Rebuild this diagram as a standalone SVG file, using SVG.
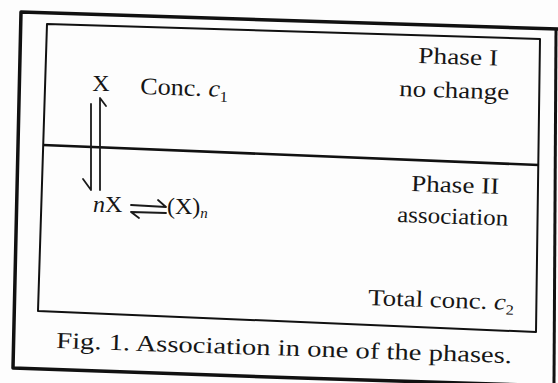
<svg xmlns="http://www.w3.org/2000/svg" width="558" height="383" viewBox="0 0 558 383">
<style>
.t{font-family:"Liberation Serif","Times New Roman",serif;fill:#161616;font-size:23px}
.b{font-size:24px}
.i{font-style:italic}
.frame{fill:none;stroke:#111;stroke-linejoin:round}
.ln{fill:none;stroke:#1a1a1a;stroke-width:1.8;stroke-linecap:round;stroke-linejoin:round}
</style>
<rect width="558" height="383" fill="#fdfdfd"/>
<g id="frame">
<path class="frame" stroke-width="3.5" d="M558,29 L21,12 L13,368 L300,378 L558,386"/>
<path class="frame" stroke-width="3" d="M556,30 L554,383"/>
<path class="frame" stroke-width="2" d="M47,24 L540,39 L536,332 L38,311 Z"/>
</g>
<g id="divider">
<path fill="none" stroke="#111" stroke-width="2.6" d="M43,145 L539,165"/>
</g>
<g id="phase1">
<text class="t" x="418" y="63" textLength="80" lengthAdjust="spacingAndGlyphs" transform="rotate(1.9 418 63)">Phase I</text>
<text class="t" x="399" y="96" textLength="110" lengthAdjust="spacingAndGlyphs" transform="rotate(1.9 399 96)">no change</text>
</g>
<g id="x-label">
<text class="t b" x="101" y="91" text-anchor="middle">X</text>
<text class="t b" x="140" y="94" textLength="88" lengthAdjust="spacingAndGlyphs" transform="rotate(1.9 140 94)">Conc. <tspan class="i">c</tspan><tspan font-size="15" dy="5">1</tspan></text>
</g>
<g id="phase2">
<text class="t" x="411" y="191" textLength="88" lengthAdjust="spacingAndGlyphs" transform="rotate(1.9 411 191)">Phase II</text>
<text class="t" x="397" y="222" textLength="111" lengthAdjust="spacingAndGlyphs" transform="rotate(1.9 397 222)">association</text>
</g>
<g id="equilibrium">
<text class="t b" x="93" y="212"><tspan class="i">n</tspan>X</text>
<text class="t b" x="167" y="214">(X)<tspan class="i" font-size="15" dy="4">n</tspan></text>
</g>
<g id="total">
<text class="t" x="368" y="305" textLength="146" lengthAdjust="spacingAndGlyphs" transform="rotate(1.9 368 305)">Total conc. <tspan class="i">c</tspan><tspan font-size="14" dy="5">2</tspan></text>
</g>
<g id="caption">
<text class="t" x="56" y="348" textLength="456" lengthAdjust="spacingAndGlyphs" transform="rotate(1.9 56 348)">Fig. 1. Association in one of the phases.</text>
</g>
<g id="connectors">
<path class="ln" d="M91,104 L91,190 M83,179 L91,190"/>
<path class="ln" d="M100,190 L100,98 L106,106"/>
<path class="ln" d="M131,205 L166,207 M158,200 L166,207"/>
<path class="ln" d="M131,212 L166,213 M131,212 L139,218"/>
</g>
</svg>
